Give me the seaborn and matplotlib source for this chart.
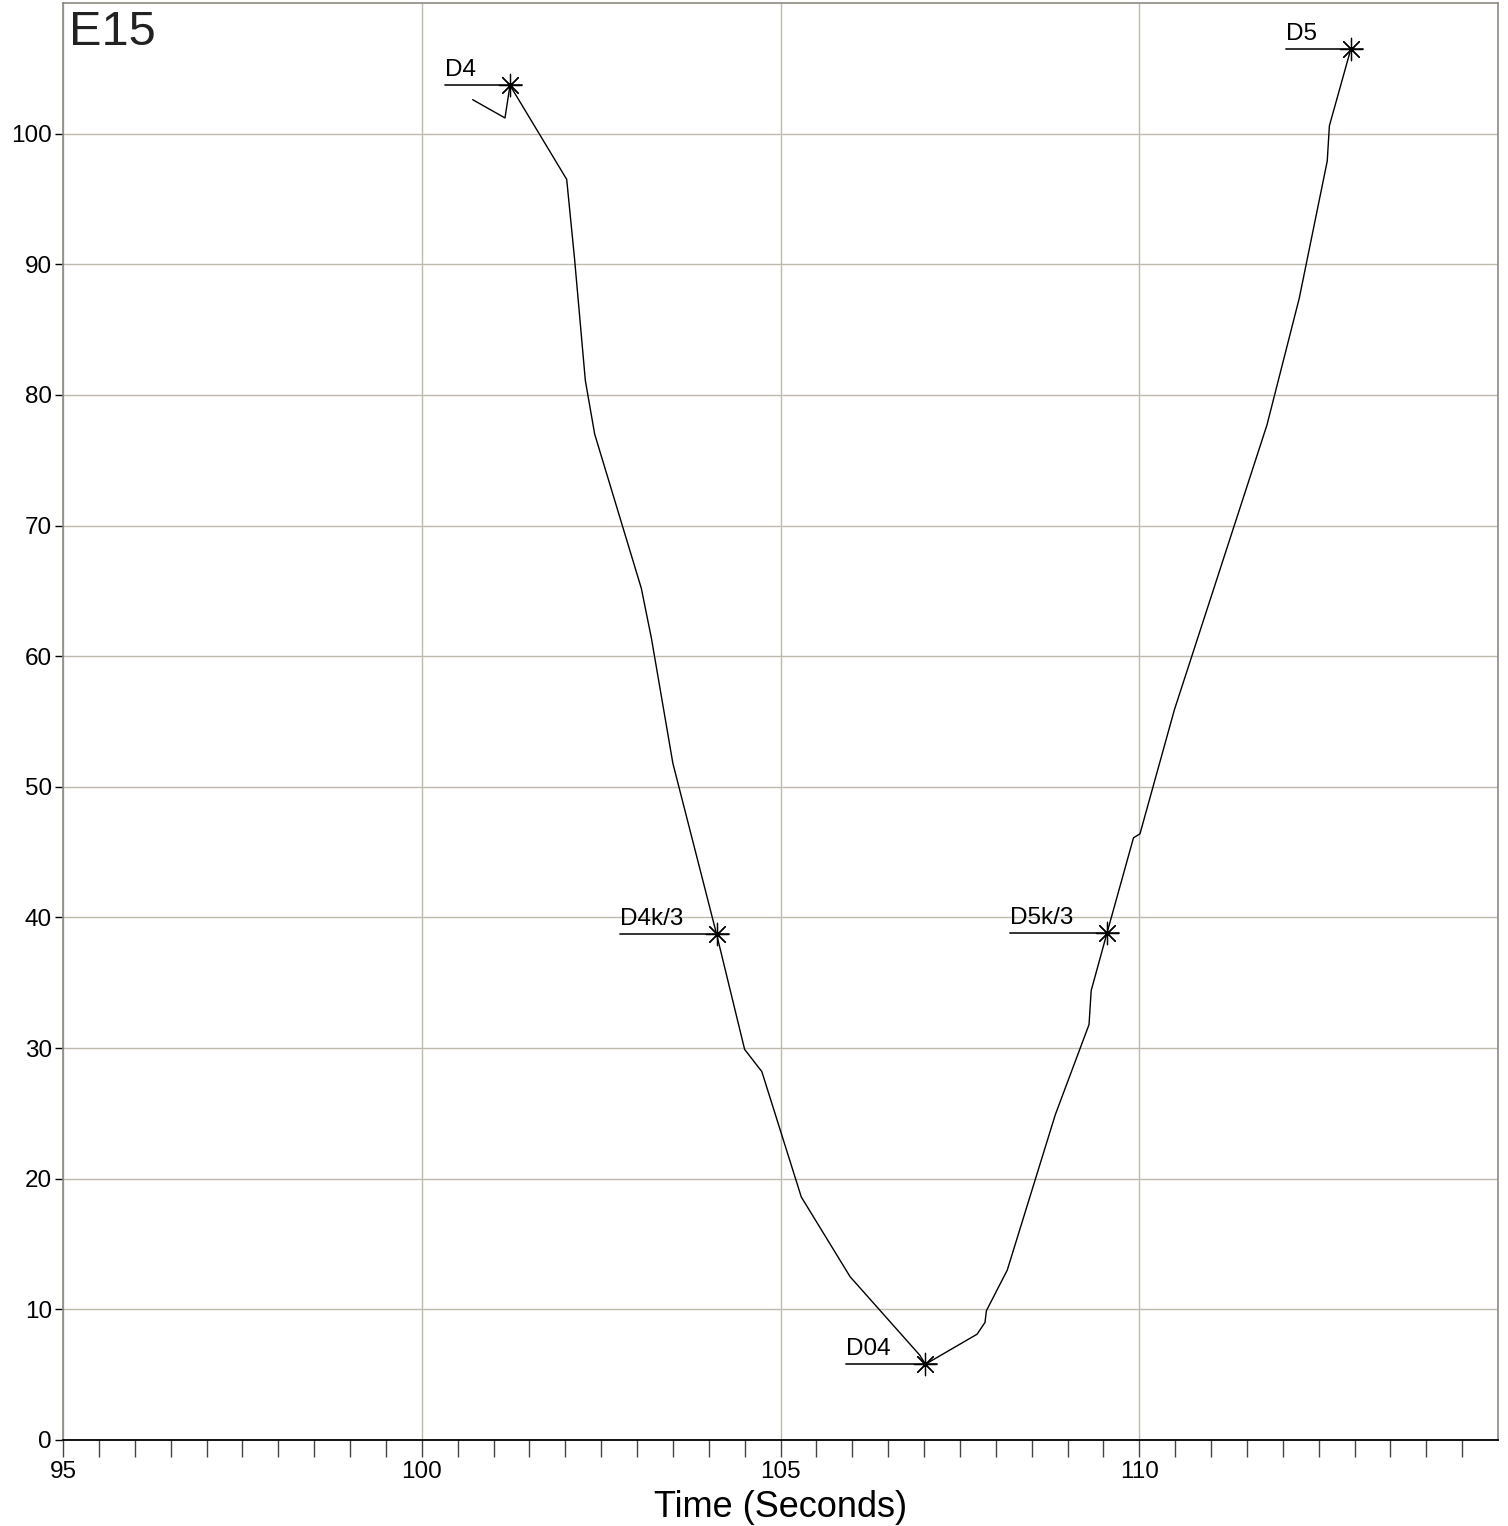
import matplotlib
matplotlib.use('Agg')
import matplotlib.pyplot as plt
import numpy as np
import pandas as pd
import seaborn as sns

# trace (Time in seconds, value)
time_s = [100.71, 101.16, 101.23, 102.02, 102.13, 102.28, 102.41, 103.06, 103.20,
          103.50, 104.11, 104.50, 104.74, 105.29, 105.97, 106.94, 107.02, 107.74,
          107.85, 107.87, 108.16, 108.83, 109.30, 109.33, 109.55, 109.92, 110.01,
          110.49, 111.78, 112.23, 112.62, 112.65, 112.95]
value = [102.6, 101.2, 103.7, 96.5, 90.4, 81.1, 77.0, 65.2, 61.4,
         51.8, 38.7, 29.9, 28.2, 18.6, 12.5, 6.5, 5.8, 8.1,
         9.0, 9.9, 13.0, 24.9, 31.8, 34.4, 38.8, 46.1, 46.4,
         55.9, 77.7, 87.4, 97.9, 100.6, 106.5]

# marked events
event_labels = ['D4', 'D4k/3', 'D04', 'D5k/3', 'D5']
event_time = [101.23, 104.11, 107.02, 109.55, 112.95]
event_value = [103.7, 38.7, 5.8, 38.8, 106.5]

title = 'E15'
x_label = 'Time (Seconds)'

sns.set_style('white')
plt.rcParams['font.family'] = ['Liberation Sans', 'DejaVu Sans']

W, H, DPI = 1508, 1526, 100
fig = plt.figure(figsize=(W / DPI, H / DPI), dpi=DPI)
ax = fig.add_axes([63 / W, 1 - 1440 / H, (1498 - 63) / W, (1440 - 3) / H])

x0, x1 = 95, 115
y0, y1 = 0, 110
px_per_x = (1498 - 63) / (x1 - x0)

df = pd.DataFrame({'t': time_s, 'v': value})
sns.lineplot(data=df, x='t', y='v', sort=False, estimator=None,
             color='black', linewidth=1.0, ax=ax, zorder=3)

ev = pd.DataFrame({'t': event_time, 'v': event_value, 'lab': event_labels})
sns.scatterplot(data=ev, x='t', y='v', marker=(8, 2, 0), s=260,
                color='black', linewidth=0.9, ax=ax, zorder=4)

# label leaders: horizontal line from left of label to just past the marker
lead_px = {'D4': 65, 'D4k/3': 97, 'D04': 79, 'D5k/3': 97, 'D5': 65}
for t, v, lab in zip(event_time, event_value, event_labels):
    xl = t - lead_px[lab] / px_per_x
    xr = t + 12 / px_per_x
    ax.plot([xl, xr], [v, v], color='#222222', linewidth=1.3, zorder=3)
    ax.annotate(lab, (xl, v), xytext=(0, 3), textcoords='offset points',
                ha='left', va='bottom', fontsize=17.5, color='black')

ax.set_xlim(x0, x1)
ax.set_ylim(y0, y1)
ax.set_xticks([95, 100, 105, 110])
ax.set_xticks(np.arange(95, 115, 0.5), minor=True)
ax.set_yticks(np.arange(0, 101, 10))

grid_c = '#bdb9ad'
ax.grid(True, which='major', color=grid_c, linewidth=1.0)
ax.set_axisbelow(True)

for side in ['left', 'top', 'right']:
    ax.spines[side].set_color('#8c8a82')
    ax.spines[side].set_linewidth(1.2)
ax.spines['bottom'].set_color('black')
ax.spines['bottom'].set_linewidth(1.3)

ax.tick_params(axis='x', which='both', direction='out', length=12, width=1.0,
               color='#444444', labelsize=17.5, labelcolor='black', pad=3,
               bottom=True)
ax.tick_params(axis='y', which='major', direction='out', length=6, width=1.0,
               color='black', labelsize=17.5, labelcolor='black', pad=2,
               left=True)

ax.set_xlabel(x_label, fontsize=26, labelpad=5, color='black')
ax.set_ylabel('')

ax.text(0.004, 0.995, title, transform=ax.transAxes, ha='left', va='top',
        fontsize=35, color='#222222')

fig.savefig('out.png', dpi=DPI)
